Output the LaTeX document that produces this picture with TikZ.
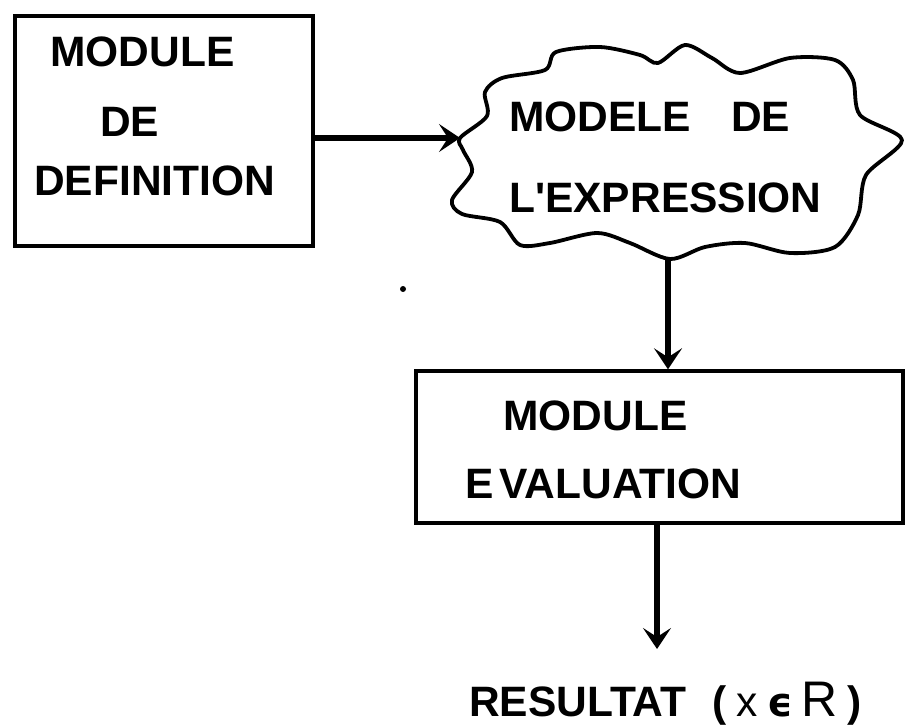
\documentclass[tikz,border=0pt]{standalone}
\usepackage{fontspec}
\setmainfont{Liberation Sans}[Ligatures=TeXOff]
\newfontfamily\symfont{DejaVu Sans}
\usetikzlibrary{arrows.meta}
\begin{document}
\begin{tikzpicture}[x=1bp,y=-1bp,
  box/.style={draw, line width=3.4bp, inner sep=0pt},
  lbl/.style={font=\fontsize{42.5bp}{42.5bp}\selectfont\bfseries, inner sep=0pt, anchor=base west},
  cloudline/.style={line width=3.8bp, line join=round},
  arr/.style={line width=6bp, -{Stealth[length=21bp,width=28bp,inset=9bp]}},
  dotmark/.style={circle, fill, inner sep=0pt, minimum size=6bp}]
\useasboundingbox (0,0) rectangle (905,728);
% box 1
\node[box, minimum width=298bp, minimum height=230bp] (def) at (164,131) {};
\node[lbl] (def1) at (50,67) {MODULE};
\node[lbl] (def2) at (100,137) {DE};
\node[lbl] (def3) at (34,195) {DEFINITION};
% cloud
\draw[cloudline] plot[smooth cycle, tension=0.5] coordinates {
 (460,138) (487,116) (485,92) (502,78) (545,70) (556,52) (600,47) (640,55)
 (658,63) (685,45) (712,58) (740,73) (790,58) (835,60) (853,80) (860,115)
 (902,140) (866,175) (858,215) (835,247) (790,253) (745,243) (705,247)
 (670,259) (630,243) (597,233) (550,243) (520,245) (500,222) (462,214)
 (452,200) (472,172) (463,150)};
\coordinate (cloudW) at (460,138);
\coordinate (cloudS) at (668,258);
\node[lbl] (mod1) at (509,132) {MODELE\hspace{40bp}DE};
\node[lbl] (mod2) at (509,212) {L'EXPRESSION};
% box 2
\node[box, minimum width=487bp, minimum height=152bp] (ev) at (659.5,447) {};
\node[lbl] (ev1) at (503,430) {MODULE};
\node[lbl] (ev2) at (465,498) {E\hspace{6bp}VALUATION};
% result
\node[lbl] (res) at (469,716) {RESULTAT\hspace{26bp}(\hspace{10bp}{\mdseries x}\hspace{10bp}{\symfont\fontsize{40bp}{40bp}\selectfont ϵ}\hspace{8bp}{\mdseries\fontsize{50bp}{50bp}\selectfont R}\hspace{10bp})};
\coordinate (resTop) at (657,649);
% dot
\node[dotmark] (speck) at (403,289) {};
% connectors
\draw[arr] (def.east |- cloudW) -- (cloudW);
\draw[arr] (cloudS) -- (cloudS |- ev.north);
\draw[arr] (ev.south -| resTop) -- (resTop);
\end{tikzpicture}
\end{document}
